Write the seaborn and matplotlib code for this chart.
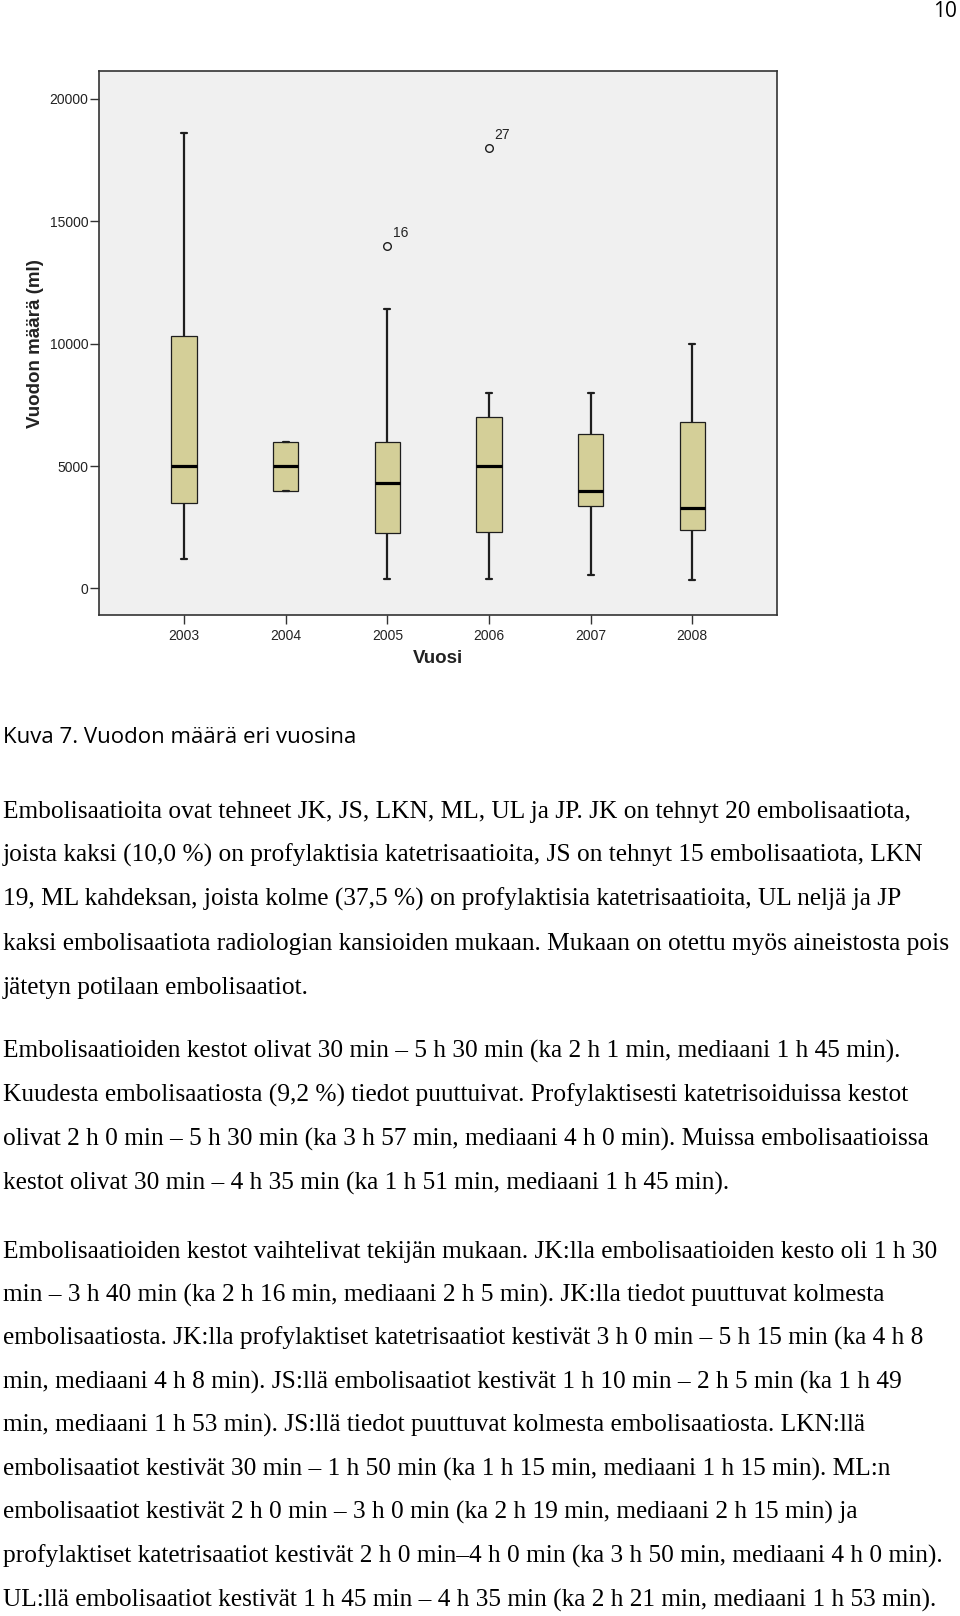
import numpy as np
import pandas as pd
import matplotlib
matplotlib.use("Agg")
import matplotlib.pyplot as plt
import seaborn as sns

# values (ml)
years = ['2003', '2004', '2005', '2006', '2007', '2008']
whisker_low = [1200, 4000, 400, 400, 550, 350]
q1 = [3500, 4000, 2250, 2300, 3350, 2380]
median = [5000, 5000, 4300, 5000, 4000, 3270]
q3 = [10300, 6000, 6000, 7000, 6300, 6780]
whisker_high = [18600, 6000, 11400, 8000, 8000, 10000]
outliers = [[], [], [14000], [18000], [], []]
outlier_ids = [[], [], ['16'], ['27'], [], []]
y_ticks = [0, 5000, 10000, 15000, 20000]

page_number = "10"
caption = "Kuva 7. Vuodon määrä eri vuosina"
para1 = [
    "Embolisaatioita ovat tehneet JK, JS, LKN, ML, UL ja JP. JK on tehnyt 20 embolisaatiota,",
    "joista kaksi (10,0 %) on profylaktisia katetrisaatioita, JS on tehnyt 15 embolisaatiota, LKN",
    "19, ML kahdeksan, joista kolme (37,5 %) on profylaktisia katetrisaatioita, UL neljä ja JP",
    "kaksi embolisaatiota radiologian kansioiden mukaan. Mukaan on otettu myös aineistosta pois",
    "jätetyn potilaan embolisaatiot.",
]
para2 = [
    "Embolisaatioiden kestot olivat 30 min – 5 h 30 min (ka 2 h 1 min, mediaani 1 h 45 min).",
    "Kuudesta embolisaatiosta (9,2 %) tiedot puuttuivat. Profylaktisesti katetrisoiduissa kestot",
    "olivat 2 h 0 min – 5 h 30 min (ka 3 h 57 min, mediaani 4 h 0 min). Muissa embolisaatioissa",
    "kestot olivat 30 min – 4 h 35 min (ka 1 h 51 min, mediaani 1 h 45 min).",
]
para3 = [
    "Embolisaatioiden kestot vaihtelivat tekijän mukaan. JK:lla embolisaatioiden kesto oli 1 h 30",
    "min – 3 h 40 min (ka 2 h 16 min, mediaani 2 h 5 min). JK:lla tiedot puuttuvat kolmesta",
    "embolisaatiosta. JK:lla profylaktiset katetrisaatiot kestivät 3 h 0 min – 5 h 15 min (ka 4 h 8",
    "min, mediaani 4 h 8 min). JS:llä embolisaatiot kestivät 1 h 10 min – 2 h 5 min (ka 1 h 49",
    "min, mediaani 1 h 53 min). JS:llä tiedot puuttuvat kolmesta embolisaatiosta. LKN:llä",
    "embolisaatiot kestivät 30 min – 1 h 50 min (ka 1 h 15 min, mediaani 1 h 15 min). ML:n",
    "embolisaatiot kestivät 2 h 0 min – 3 h 0 min (ka 2 h 19 min, mediaani 2 h 15 min) ja",
    "profylaktiset katetrisaatiot kestivät 2 h 0 min–4 h 0 min (ka 3 h 50 min, mediaani 4 h 0 min).",
    "UL:llä embolisaatiot kestivät 1 h 45 min – 4 h 35 min (ka 2 h 21 min, mediaani 1 h 53 min).",
]

# long-form table whose quartiles / whisker ends equal the values above
rows = []
for i, yr in enumerate(years):
    vals = [whisker_low[i], q1[i], q1[i], median[i], median[i], q3[i], q3[i], whisker_high[i]] + outliers[i]
    for v in vals:
        rows.append({'Vuosi': yr, 'ml': v})
df = pd.DataFrame(rows)

sns.set_theme(style='ticks')
plt.rcParams['font.family'] = ['Liberation Sans', 'DejaVu Sans']

W, H = 960, 1616
fig = plt.figure(figsize=(W / 100, H / 100), dpi=100)
fig.patch.set_facecolor('white')

left, right, top, bottom = 99.3, 777.3, 71.1, 615.4
ax = fig.add_axes([left / W, 1 - bottom / H, (right - left) / W, (bottom - top) / H])
ax.set_facecolor('#f0f0f0')

edge = '#1e1e1e'
sns.boxplot(data=df, x='Vuosi', y='ml', order=years, ax=ax,
            color='#d4cf98', saturation=1, width=0.25, whis=1.5,
            linecolor=edge, linewidth=1.0, capwidths=0.06,
            boxprops={'edgecolor': edge, 'linewidth': 0.9},
            medianprops={'color': 'black', 'linewidth': 2.3},
            whiskerprops={'color': edge, 'linewidth': 1.6},
            capprops={'color': edge, 'linewidth': 1.6},
            flierprops={'marker': 'o', 'markerfacecolor': 'none',
                        'markeredgecolor': edge, 'markersize': 5.5,
                        'markeredgewidth': 1.0})

for i, yr in enumerate(years):
    for v, lab in zip(outliers[i], outlier_ids[i]):
        ax.annotate(lab, xy=(i, v), xytext=(9.5, 9), textcoords='offset points',
                    ha='center', va='center', fontsize=10, color='#222222')

ax.set_xlim(-0.833, 5.836)
ax.set_ylim(-1100, 21130)
ax.set_yticks(y_ticks)
ax.set_yticklabels([str(t) for t in y_ticks])

ax.set_xlabel('Vuosi', fontsize=13.5, fontweight='bold', labelpad=5, color='#222222')
ax.set_ylabel('Vuodon määrä (ml)', fontsize=13.5, fontweight='bold', labelpad=4, color='#222222')
ax.tick_params(axis='both', length=6.5, width=1, color='#333333',
               labelsize=10, labelcolor='#222222')
ax.tick_params(axis='x', pad=3)
ax.tick_params(axis='y', pad=1.5)
for sp in ax.spines.values():
    sp.set_visible(True)
    sp.set_color('#333333')
    sp.set_linewidth(1.2)
ax.grid(False)

# page text below the chart
fig.text(957 / W, 1 - 1 / H, page_number, ha='right', va='top',
         fontsize=15, family=['Open Sans', 'DejaVu Sans'], color='black')
fig.text(3 / W, 1 - 743.3 / H, caption, ha='left', va='baseline',
         fontsize=16, family=['Open Sans', 'DejaVu Sans'], color='black')

serif = ['Liberation Serif', 'DejaVu Serif']
blocks = [(para1, 817.7, 44.1), (para2, 1057.3, 44.2), (para3, 1257.7, 43.55)]
for lines, y0, step in blocks:
    for k, line in enumerate(lines):
        fig.text(3 / W, 1 - (y0 + k * step) / H, line, ha='left', va='baseline',
                 fontsize=18.3, family=serif, color='black')

fig.savefig('out.png', dpi=100, facecolor='white')
